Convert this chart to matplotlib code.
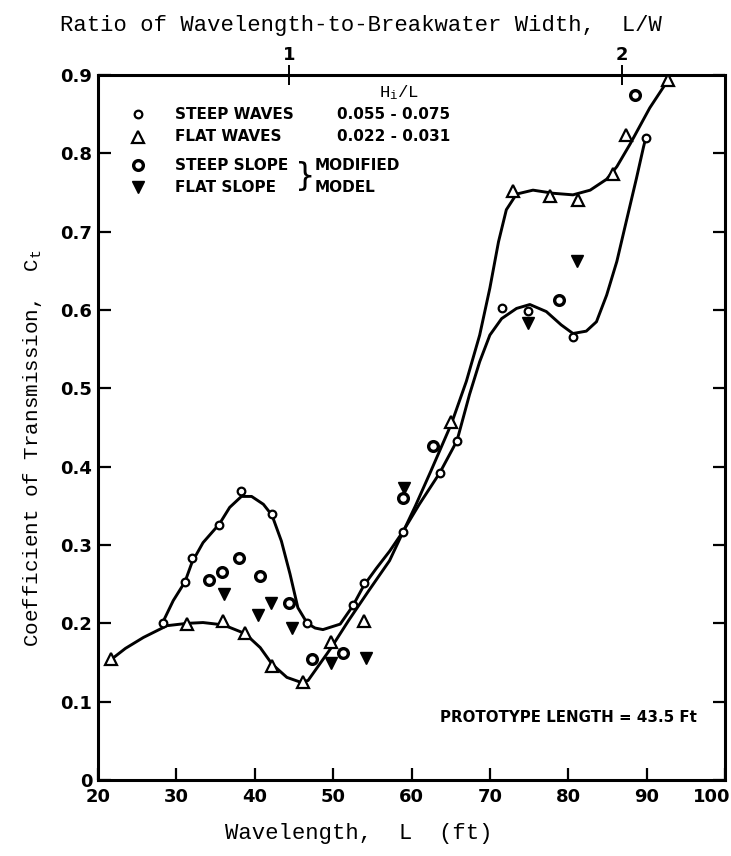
import matplotlib.pyplot as plt
import matplotlib.transforms as mtransforms
import numpy as np

# wavelength L (ft) vs transmission coefficient Ct
steep_waves_L = [28.25, 31.1, 32.0, 35.5, 38.3, 42.2, 46.7, 52.5, 53.9, 58.9, 63.6, 65.8, 71.5, 74.9, 80.6, 89.9]
steep_waves_C = [0.201, 0.253, 0.283, 0.325, 0.369, 0.339, 0.200, 0.224, 0.252, 0.317, 0.392, 0.433, 0.602, 0.599, 0.565, 0.820]

flat_waves_L = [21.7, 31.4, 36.0, 38.75, 42.2, 46.2, 49.7, 53.9, 65.1, 73.0, 77.65, 81.3, 85.7, 87.4, 92.7]
flat_waves_C = [0.154, 0.199, 0.203, 0.188, 0.146, 0.125, 0.176, 0.203, 0.457, 0.752, 0.745, 0.741, 0.774, 0.823, 0.893]

steep_slope_L = [34.2, 35.8, 38.0, 40.7, 44.4, 47.3, 51.3, 58.9, 62.7, 78.8, 88.5]
steep_slope_C = [0.255, 0.266, 0.283, 0.261, 0.226, 0.155, 0.162, 0.360, 0.426, 0.613, 0.874]

flat_slope_L = [36.1, 40.4, 42.1, 44.8, 49.7, 54.2, 59.0, 74.9, 81.1]
flat_slope_C = [0.237, 0.211, 0.226, 0.194, 0.150, 0.156, 0.373, 0.583, 0.662]

# hand-drawn fitted curves
steep_curve_L = [28.25, 29.6, 31.1, 32.0, 33.4, 35.5, 36.8, 38.3, 39.6, 41.1, 42.2, 43.4, 44.5, 45.5,
                 46.7, 47.7, 48.7, 50.9, 52.5, 53.9, 55.5, 57.2, 58.9, 61.0, 63.6, 65.8, 67.4, 68.7,
                 70.0, 71.5, 73.4, 75.1, 77.2, 79.1, 80.6, 82.3, 83.6, 84.9, 86.2, 87.4, 88.7, 89.6, 89.9]
steep_curve_C = [0.201, 0.229, 0.253, 0.278, 0.303, 0.327, 0.348, 0.362, 0.362, 0.352, 0.338, 0.305, 0.263, 0.220,
                 0.200, 0.194, 0.192, 0.199, 0.222, 0.248, 0.270, 0.292, 0.317, 0.352, 0.392, 0.433, 0.492, 0.534,
                 0.568, 0.589, 0.602, 0.607, 0.598, 0.581, 0.570, 0.573, 0.585, 0.619, 0.662, 0.713, 0.768, 0.808, 0.820]

flat_curve_L = [21.7, 23.5, 25.8, 28.8, 31.4, 33.4, 36.0, 38.75, 40.7, 42.2, 44.1, 45.8, 46.8, 49.7, 52.0,
                54.5, 57.2, 58.7, 60.5, 62.5, 65.1, 67.0, 68.7, 70.0, 71.1, 72.1, 73.4, 75.5, 78.1, 80.6,
                82.8, 84.9, 86.2, 87.9, 90.4, 92.7]
flat_curve_C = [0.154, 0.168, 0.182, 0.197, 0.200, 0.201, 0.198, 0.187, 0.169, 0.148, 0.131, 0.125, 0.127, 0.168, 0.204,
                0.241, 0.280, 0.312, 0.350, 0.395, 0.455, 0.509, 0.568, 0.628, 0.687, 0.728, 0.748, 0.753, 0.749, 0.747,
                0.753, 0.767, 0.783, 0.812, 0.858, 0.893]

x_ticks = [20, 30, 40, 50, 60, 70, 80, 90, 100]
y_ticks = [0, 0.1, 0.2, 0.3, 0.4, 0.5, 0.6, 0.7, 0.8, 0.9]
y_labels = ['0', '0.1', '0.2', '0.3', '0.4', '0.5', '0.6', '0.7', '0.8', '0.9']
ratio_ticks = [44.4, 86.9]
ratio_labels = ['1', '2']

mono = 'Liberation Mono'
bold = 'DejaVu Sans'

fig = plt.figure(figsize=(7.31, 8.56), dpi=100)
ax = fig.add_axes([98/731, 1-780/856, (725-98)/731, (780-75)/856])

ax.plot(steep_curve_L, steep_curve_C, color='black', lw=2.1, solid_capstyle='round', zorder=2)
ax.plot(flat_curve_L, flat_curve_C, color='black', lw=2.1, solid_capstyle='round', zorder=2)

ax.plot(steep_waves_L, steep_waves_C, 'o', ms=5.5, mfc='white', mec='black', mew=1.6, ls='none', zorder=3)
ax.plot(flat_waves_L, flat_waves_C, '^', ms=8.5, mfc='white', mec='black', mew=1.6, ls='none', zorder=3)
ax.plot(steep_slope_L, steep_slope_C, 'o', ms=7, mfc='white', mec='black', mew=2.4, ls='none', zorder=3)
ax.plot(flat_slope_L, flat_slope_C, 'v', ms=9, color='black', ls='none', zorder=3)

ax.set_xlim(20, 100)
ax.set_ylim(0, 0.9)
ax.set_xticks(x_ticks)
ax.set_yticks(y_ticks)
ax.set_yticklabels(y_labels)
ax.tick_params(axis='both', direction='in', length=9, width=1.6, labelsize=13, pad=6)
ax.tick_params(axis='y', right=True, pad=4)
for lab in ax.get_xticklabels() + ax.get_yticklabels():
    lab.set_fontweight('bold')
    lab.set_family(bold)
# keep "100" inside the picture, right-aligned to the corner as in the original
last = ax.get_xticklabels()[-1]
last.set_horizontalalignment('right')
last.set_transform(last.get_transform() + mtransforms.ScaledTranslation(4/72, 0, fig.dpi_scale_trans))
for s in ax.spines.values():
    s.set_linewidth(2.2)

top = ax.twiny()
top.set_xlim(20, 100)
top.set_xticks(ratio_ticks)
top.set_xticklabels(ratio_labels, fontweight='bold', fontsize=13, family=bold)
top.tick_params(direction='inout', length=14, width=1.4, pad=1)

# legend block
ax.text(58.4, 0.877, r'$\mathregular{H_i/L}$', family=mono, fontsize=12.5, ha='center', va='center')
rows = [0.850, 0.821, 0.785, 0.757]
ax.plot([25.1], [rows[0]], 'o', ms=5.5, mfc='white', mec='black', mew=1.6)
ax.plot([25.1], [rows[1]], '^', ms=8.5, mfc='white', mec='black', mew=1.6)
ax.plot([25.1], [rows[2]], 'o', ms=7, mfc='white', mec='black', mew=2.4)
ax.plot([25.1], [rows[3]], 'v', ms=9, color='black')
names = ['STEEP WAVES', 'FLAT WAVES', 'STEEP SLOPE', 'FLAT SLOPE']
for r, n in zip(rows, names):
    ax.text(29.8, r, n, family=bold, fontweight='bold', fontsize=11, va='center')
ax.text(50.5, rows[0], '0.055 - 0.075', family=bold, fontweight='bold', fontsize=11, va='center')
ax.text(50.5, rows[1], '0.022 - 0.031', family=bold, fontweight='bold', fontsize=11, va='center')
ax.text(46.4, (rows[2] + rows[3]) / 2, '}', family=bold, fontsize=23, ha='center', va='center')
ax.text(47.6, rows[2], 'MODIFIED', family=bold, fontweight='bold', fontsize=11, va='center')
ax.text(47.6, rows[3], 'MODEL', family=bold, fontweight='bold', fontsize=11, va='center')

ax.text(63.6, 0.08, 'PROTOTYPE LENGTH = 43.5 Ft', family=bold, fontweight='bold', fontsize=10.8, va='center')

fig.text(361/731, 1-25/856, 'Ratio of Wavelength-to-Breakwater Width,  L/W', family=mono,
         fontsize=16, ha='center', va='center')
fig.text(359/731, 1-833/856, 'Wavelength,  L  (ft)', family=mono, fontsize=16, ha='center', va='center')
fig.text(33/731, 1-448/856, r'Coefficient of Transmission,  $\mathregular{C_t}$', family=mono,
         fontsize=15, rotation=90, ha='center', va='center')

fig.savefig('out.png', dpi=100)
